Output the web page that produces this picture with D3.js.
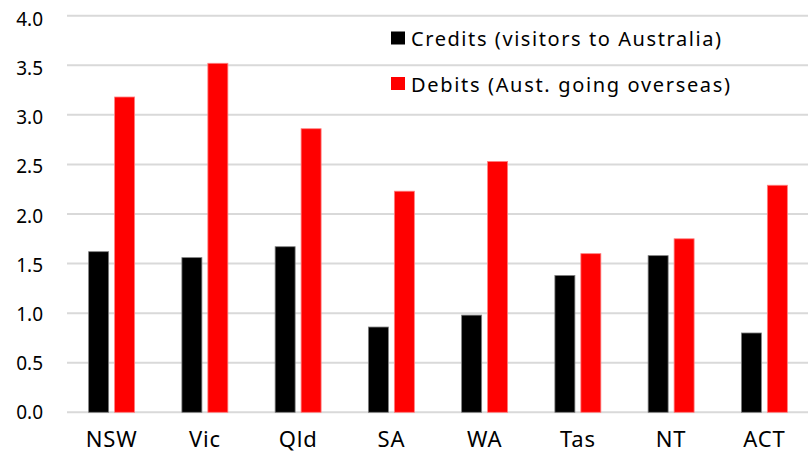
<!DOCTYPE html>
<html>
<head>
<meta charset="utf-8">
<script src="https://cdn.jsdelivr.net/npm/d3@7"></script>
<style>
  body { margin: 0; background: #fff; }
  svg { display: block; font-family: "Noto Sans", "Open Sans", sans-serif; }
</style>
</head>
<body>
<svg id="chart" width="808" height="452"></svg>
<script>
let states = ['NSW', 'Vic', 'Qld', 'SA', 'WA', 'Tas', 'NT', 'ACT'];
let credits = [1.62, 1.56, 1.67, 0.86, 0.98, 1.38, 1.58, 0.80];
let debits = [3.18, 3.52, 2.86, 2.23, 2.53, 1.60, 1.75, 2.29];
let seriesNames = ['Credits (visitors to Australia)', 'Debits (Aust. going overseas)'];
let yTicks = [0, 0.5, 1, 1.5, 2, 2.5, 3, 3.5, 4];

let svg = d3.select('#chart');
let colors = d3.scaleOrdinal().domain(['credits', 'debits']).range(['#000000', '#ff0000']);
let strokes = d3.scaleOrdinal().domain(['credits', 'debits']).range(['#7f7f7f', '#ff8080']);

let y = d3.scaleLinear().domain([0, 4]).range([412.3, 15.7]);
let x0 = d3.scaleBand().domain(states).range([65, 811]).paddingInner(0.507).paddingOuter(0.2535);
let x1 = d3.scaleBand().domain(['credits', 'debits']).range([0, x0.bandwidth()]).paddingInner(0.23);

// gridlines
svg.append('g')
  .selectAll('line')
  .data(yTicks)
  .join('line')
  .attr('x1', 67).attr('x2', 808)
  .attr('y1', d => y(d)).attr('y2', d => y(d))
  .attr('stroke', '#d9d9d9')
  .attr('stroke-width', 2);

// y labels
svg.append('g')
  .selectAll('text')
  .data(yTicks)
  .join('text')
  .attr('x', 43)
  .attr('y', (d, i) => y(d) + 7 + (1 - i / 8) * -0.5 + (i / 8) * 3.5)
  .attr('text-anchor', 'end')
  .attr('font-size', 19)
  .attr('fill', '#000')
  .text(d => d.toFixed(1));

// bars
let rows = states.map((s, i) => ({state: s, credits: credits[i], debits: debits[i]}));
let groups = svg.append('g')
  .selectAll('g')
  .data(rows)
  .join('g')
  .attr('transform', d => `translate(${x0(d.state)},0)`);

groups.selectAll('rect')
  .data(d => ['credits', 'debits'].map(k => ({key: k, value: d[k]})))
  .join('rect')
  .attr('x', d => x1(d.key))
  .attr('width', x1.bandwidth())
  .attr('y', d => y(d.value))
  .attr('height', d => y(0) - y(d.value))
  .attr('fill', d => colors(d.key))
  .attr('stroke', d => strokes(d.key))
  .attr('stroke-width', 0.8);

// x labels
svg.append('g')
  .selectAll('text')
  .data(states)
  .join('text')
  .attr('x', d => x0(d) + x0.bandwidth() / 2)
  .attr('y', 447)
  .attr('text-anchor', 'middle')
  .attr('font-size', 22)
  .attr('letter-spacing', 0.8)
  .attr('fill', '#000')
  .text(d => d);

// legend
let legend = svg.append('g');
let legendKeys = ['credits', 'debits'];
let legendWidths = [310, 319];
legendKeys.forEach(function(k, i) {
  let ly = 31.5 + i * 45.5;
  legend.append('rect')
    .attr('x', 391).attr('y', ly)
    .attr('width', 14).attr('height', 13)
    .attr('fill', colors(k));
  legend.append('text')
    .attr('x', 411).attr('y', ly + 14.5)
    .attr('font-size', 20)
    .attr('fill', '#000')
    .attr('textLength', legendWidths[i])
    .attr('lengthAdjust', 'spacing')
    .text(seriesNames[i]);
});
</script>
</body>
</html>
